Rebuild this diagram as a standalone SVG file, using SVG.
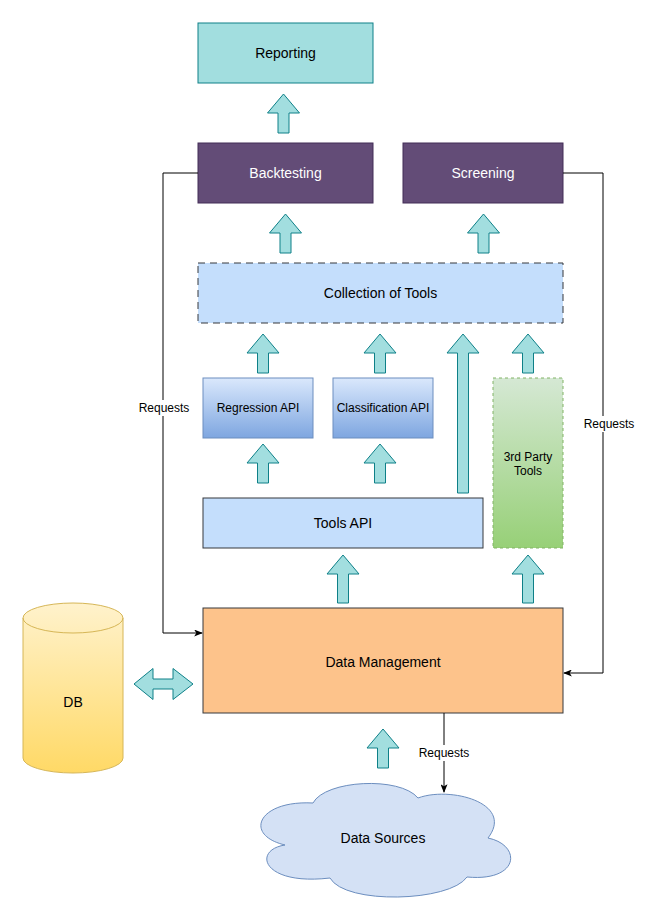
<svg xmlns="http://www.w3.org/2000/svg" width="655" height="917" viewBox="0 0 655 917">
<style>
text{font-family:"Liberation Sans",Arial,sans-serif;fill:#000;text-anchor:middle}
.t14{font-size:14px}
.t12{font-size:12px}
.w{fill:#fff}
.arr{fill:#a2dedf;stroke:#0e8088;stroke-width:1}
.conn{fill:none;stroke:#000;stroke-width:1}
</style>
<defs>
<linearGradient id="gBlue" x1="0" y1="0" x2="0" y2="1"><stop offset="0" stop-color="#dae8fc"/><stop offset="1" stop-color="#7ea6e0"/></linearGradient>
<linearGradient id="gGreen" x1="0" y1="0" x2="0" y2="1"><stop offset="0" stop-color="#d5e8d4"/><stop offset="1" stop-color="#97d077"/></linearGradient>
<linearGradient id="gYellow" x1="0" y1="0" x2="0" y2="1"><stop offset="0" stop-color="#fff2cc"/><stop offset="1" stop-color="#ffd966"/></linearGradient>
<path id="up39" d="M0,0 L16,19 L5.5,19 L5.5,39 L-5.5,39 L-5.5,19 L-16,19 Z"/>
<path id="up48" d="M0,0 L16,19 L5.5,19 L5.5,48 L-5.5,48 L-5.5,19 L-16,19 Z"/>
<marker id="ah" viewBox="0 0 10 8" refX="9" refY="4" markerWidth="9" markerHeight="7" orient="auto" markerUnits="userSpaceOnUse">
<path d="M0,0 L10,4 L0,8 L2.5,4 Z" fill="#000"/>
</marker>
</defs>

<g id="reporting"><rect x="198" y="23" width="175" height="60" fill="#a2dedf" stroke="#0e8088"/><text class="t14" x="285.5" y="58">Reporting</text></g>
<g id="backtesting"><rect x="198" y="143" width="175" height="60" fill="#634c77" stroke="#432d57"/><text class="t14 w" x="285.5" y="178">Backtesting</text></g>
<g id="screening"><rect x="403" y="143" width="160" height="60" fill="#634c77" stroke="#432d57"/><text class="t14 w" x="483" y="178">Screening</text></g>
<g id="collection"><rect x="198" y="263" width="365" height="60" fill="#c4defc" stroke="#36393d" stroke-dasharray="7,5"/><text class="t14" x="380.5" y="298">Collection of Tools</text></g>
<g id="regression"><rect x="203" y="378" width="110" height="60" fill="url(#gBlue)" stroke="#6c8ebf"/><text class="t12" x="258" y="412">Regression API</text></g>
<g id="classification"><rect x="333" y="378" width="100" height="60" fill="url(#gBlue)" stroke="#6c8ebf"/><text class="t12" x="383" y="412">Classification API</text></g>
<g id="thirdparty"><rect x="493" y="378" width="70" height="170" fill="url(#gGreen)" stroke="#82b366" stroke-dasharray="3,3"/><text class="t12" x="528" y="461">3rd Party</text><text class="t12" x="528" y="475">Tools</text></g>
<g id="toolsapi"><rect x="203" y="498" width="280" height="50" fill="#c4defc" stroke="#36393d"/><text class="t14" x="343" y="528">Tools API</text></g>
<g id="datamgmt"><rect x="203" y="608" width="360" height="105" fill="#fdc38b" stroke="#36393d"/><text class="t14" x="383" y="667">Data Management</text></g>
<g id="db"><path d="M23,618 A50,15 0 0,1 123,618 L123,758 A50,15 0 0,1 23,758 Z" fill="url(#gYellow)" stroke="#d6b656"/><path d="M23,618 A50,15 0 0,0 123,618" fill="none" stroke="#d6b656"/><text class="t14" x="73" y="707">DB</text></g>
<g id="datasources"><path d="M313,803 C325,780 400,776 418,798 C450,786 515,803 488,838 C522,845 520,882 467,877 C450,902 345,905 330,878 C262,886 252,850 285,845 C243,835 258,800 313,803 Z" fill="#d4e1f5" stroke="#6c8ebf"/><text class="t14" x="383" y="843">Data Sources</text></g>

<g id="block-arrows">
<use href="#up39" class="arr" x="283.5" y="94"/>
<use href="#up39" class="arr" x="285.5" y="214"/>
<use href="#up39" class="arr" x="483.5" y="214"/>
<use href="#up39" class="arr" x="263" y="334"/>
<use href="#up39" class="arr" x="380" y="334"/>
<use href="#up39" class="arr" x="528" y="334"/>
<path class="arr" d="M463,334 L479,353 L468.5,353 L468.5,493 L457.5,493 L457.5,353 L447,353 Z"/>
<use href="#up39" class="arr" x="263" y="444"/>
<use href="#up39" class="arr" x="380" y="444"/>
<use href="#up48" class="arr" x="343" y="555"/>
<use href="#up48" class="arr" x="528" y="555"/>
<use href="#up39" class="arr" x="383" y="729"/>
<path class="arr" d="M134,684 L153,668.5 L153,679 L173,679 L173,668.5 L193,684 L173,699.5 L173,689 L153,689 L153,699.5 Z"/>
</g>

<g id="connectors">
<path class="conn" d="M198,173 L163,173 L163,633 L202,633" marker-end="url(#ah)"/>
<path class="conn" d="M563,173 L603,173 L603,673 L564,673" marker-end="url(#ah)"/>
<path class="conn" d="M444,713 L444,792" marker-end="url(#ah)"/>
<rect x="136" y="400" width="56" height="16" fill="#fff"/>
<text class="t12" x="164" y="412">Requests</text>
<rect x="581" y="416" width="56" height="16" fill="#fff"/>
<text class="t12" x="609" y="428">Requests</text>
<rect x="416" y="745" width="56" height="16" fill="#fff"/>
<text class="t12" x="444" y="757">Requests</text>
</g>
</svg>
